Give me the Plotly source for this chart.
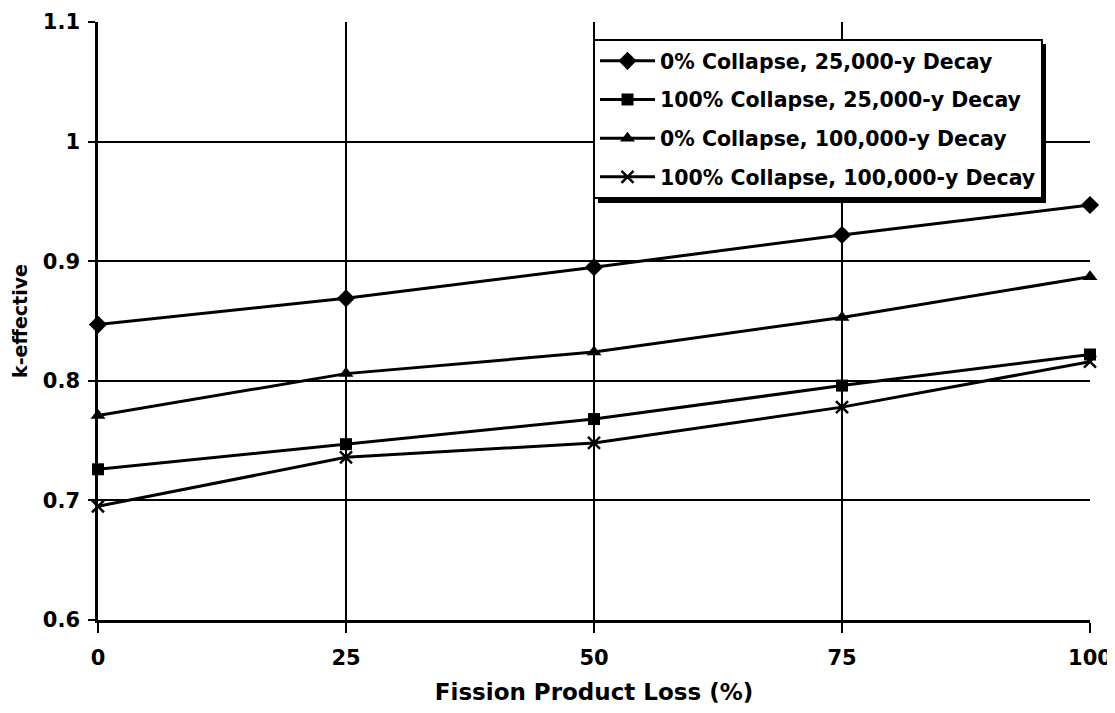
import plotly.graph_objects as go

# Data
x_loss = [0, 25, 50, 75, 100]
series_names = [
    "0% Collapse, 25,000-y Decay",
    "100% Collapse, 25,000-y Decay",
    "0% Collapse, 100,000-y Decay",
    "100% Collapse, 100,000-y Decay",
]
k_c0_25k = [0.847, 0.869, 0.895, 0.922, 0.947]
k_c100_25k = [0.726, 0.747, 0.768, 0.796, 0.822]
k_c0_100k = [0.771, 0.806, 0.824, 0.853, 0.887]
k_c100_100k = [0.695, 0.736, 0.748, 0.778, 0.816]
x_ticks = [0, 25, 50, 75, 100]

series_values = [k_c0_25k, k_c100_25k, k_c0_100k, k_c100_100k]
symbols = ["diamond", "square", "triangle-up", "x-thin"]
sizes = [14, 12, 13, 12]

FONT = "DejaVu Sans"

fig = go.Figure()
for i, (name, vals) in enumerate(zip(series_names, series_values)):
    marker = dict(symbol=symbols[i], size=sizes[i], color="black")
    if symbols[i] == "x-thin":
        marker["line"] = dict(color="black", width=2.5)
    fig.add_trace(go.Scatter(
        x=x_loss, y=vals, name=name, mode="lines+markers",
        line=dict(color="black", width=3),
        marker=marker, cliponaxis=False, legendgroup=f"g{i}",
    ))

# The page body adds an 8px offset, so the figure is sized to compensate
OFF = 8
W, H = 1115 - OFF, 713 - OFF
ml, mr, mt, mb = 98 - OFF, 25, 22 - OFF, 93
pw, ph = W - ml - mr, H - mt - mb

def px_x(px):
    return (px - OFF - ml) / pw

def px_y(py):
    return (H - mb - (py - OFF)) / ph

fig.add_shape(type="rect", xref="paper", yref="paper",
              x0=px_x(598), x1=px_x(1046), y0=px_y(203), y1=px_y(44),
              fillcolor="black", line=dict(width=0), layer="above")

fig.update_layout(
    width=W, height=H,
    margin=dict(l=ml, r=mr, t=mt, b=mb, autoexpand=False),
    paper_bgcolor="white", plot_bgcolor="white",
    font=dict(family=FONT, color="black"),
    showlegend=True,
    legend=dict(
        x=px_x(593), y=px_y(39), xanchor="left", yanchor="top",
        bgcolor="white", bordercolor="black", borderwidth=2,
        font=dict(family=FONT, size=20.5, color="black", weight="bold"),
        tracegroupgap=9, itemwidth=55,
    ),
    xaxis=dict(
        range=[0, 100], tickvals=x_ticks, ticktext=[str(v) for v in x_ticks],
        automargin=False,
        showgrid=True, gridcolor="black", gridwidth=1.5,
        showline=True, linecolor="black", linewidth=2.5,
        ticks="outside", ticklen=10, tickwidth=1.5, tickcolor="black",
        tickfont=dict(family=FONT, size=21, weight="bold"),
        ticklabelstandoff=7,
        zeroline=False,
        title=dict(text="Fission Product Loss (%)",
                   font=dict(family=FONT, size=23, weight="bold"), standoff=15),
    ),
    yaxis=dict(
        range=[0.6, 1.1], dtick=0.1, tick0=0.6,
        automargin=False,
        showgrid=True, gridcolor="black", gridwidth=1.5,
        showline=True, linecolor="black", linewidth=2.5,
        ticks="outside", ticklen=7, tickwidth=1.5, tickcolor="black",
        tickfont=dict(family=FONT, size=21, weight="bold"),
        ticklabelstandoff=4,
        zeroline=False,
        title=dict(text="k-effective",
                   font=dict(family=FONT, size=19, weight="bold"), standoff=11),
    ),
)

fig.write_html("out.html")
